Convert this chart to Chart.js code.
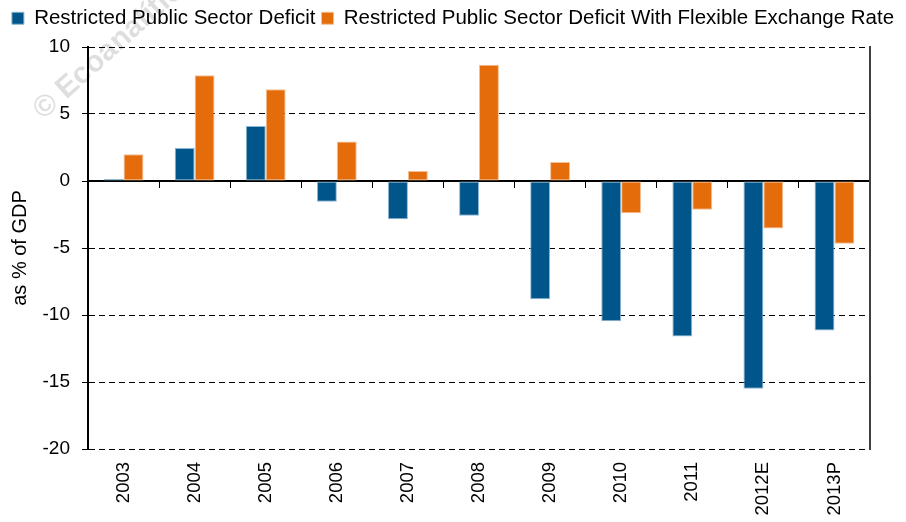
<!DOCTYPE html>
<html>
<head>
<meta charset="utf-8">
<script src="https://cdn.jsdelivr.net/npm/chart.js@4/dist/chart.umd.min.js"></script>
<style>
  html, body { margin: 0; padding: 0; background: #fff; }
  #wrap { width: 906px; height: 522px; }
</style>
</head>
<body>
<div id="wrap"><canvas id="deficit_chart" width="906" height="522"></canvas></div>
<script>
// DATA
const years = ["2003", "2004", "2005", "2006", "2007", "2008", "2009", "2010", "2011", "2012E", "2013P"];
const restricted_deficit = [0.15, 2.46, 4.1, -1.55, -2.85, -2.6, -8.83, -10.47, -11.6, -15.5, -11.15];
const restricted_flexible = [2.0, 7.9, 6.85, 2.95, 0.75, 8.68, 1.42, -2.4, -2.15, -3.55, -4.68];
const y_min = -20, y_max = 10, y_step = 5;

const ctx = document.getElementById("deficit_chart").getContext("2d");
const font_family = "'Liberation Sans', Arial, sans-serif";

// fixed legend height so the plot starts where the original does
const legendHeight = {
  id: "legendHeight",
  beforeInit(chart) {
    const fit = chart.legend.fit;
    chart.legend.fit = function () {
      fit.bind(chart.legend)();
      this.height = 45;
    };
  },
};

// faint watermark behind everything
const watermark = {
  id: "watermark",
  beforeDraw(chart) {
    const c = chart.ctx;
    c.save();
    c.translate(38, 114);
    c.rotate(-42 * Math.PI / 180);
    c.font = "bold 30px " + font_family;
    c.fillStyle = "rgba(0,0,0,0.13)";
    c.textBaseline = "middle";
    c.fillText("\u00A9 Ecoanal\u00EDtica", 0, 0);
    c.restore();
  },
};

const my_chart = new Chart(ctx, {
  type: "bar",
  data: {
    labels: years,
    datasets: [
      {
        label: "Restricted Public Sector Deficit",
        data: restricted_deficit,
        backgroundColor: "#00568A",
        borderColor: "#8DB6D2",
        borderWidth: 1,
        borderSkipped: false,
      },
      {
        label: "Restricted Public Sector Deficit With Flexible Exchange Rate",
        data: restricted_flexible,
        backgroundColor: "#E46C0A",
        borderColor: "#F4BE92",
        borderWidth: 1,
        borderSkipped: false,
      },
    ],
  },
  options: {
    responsive: false,
    animation: false,
    devicePixelRatio: 1,
    layout: { padding: { left: 0, right: 0, top: 2, bottom: 0 } },
    datasets: { bar: { barPercentage: 1, categoryPercentage: 0.56 } },
    plugins: {
      legend: {
        position: "top",
        labels: {
          boxWidth: 12,
          boxHeight: 12,
          padding: 6,
          color: "#000",
          font: { family: font_family, size: 20.5 },
        },
      },
      tooltip: { enabled: false },
    },
    scales: {
      x: {
        position: "bottom",
        grid: { display: false, drawTicks: false },
        border: { display: false },
        ticks: {
          minRotation: 90,
          maxRotation: 90,
          padding: 13,
          color: "#000",
          font: { family: font_family, size: 18.5 },
        },
        afterFit(scale) { scale.height = 73; },
      },
      x0: {
        type: "category",
        position: { y: 0 },
        grid: { offset: true, drawOnChartArea: false, drawTicks: true, tickLength: 6, color: "#000", lineWidth: 1 },
        border: { color: "#000", width: 2 },
        ticks: { display: false },
      },
      y: {
        min: y_min,
        max: y_max,
        ticks: {
          stepSize: y_step,
          padding: 12,
          color: "#000",
          font: { family: font_family, size: 19 },
        },
        grid: { color: "#000", lineWidth: 1, tickLength: 6, tickColor: "#000" },
        border: { display: true, color: "#000", width: 2, dash: [6, 4] },
        title: {
          display: true,
          text: "as % of GDP",
          color: "#000",
          font: { family: font_family, size: 20 },
          padding: { top: 8, bottom: 0 },
        },
        afterFit(scale) { scale.width = 88; },
      },
      y2: {
        position: "right",
        grid: { display: false, drawTicks: false },
        ticks: { display: false },
        border: { display: true, color: "#404040", width: 2 },
        afterFit(scale) { scale.width = 36; },
      },
    },
  },
  plugins: [legendHeight, watermark],
});
</script>
</body>
</html>
